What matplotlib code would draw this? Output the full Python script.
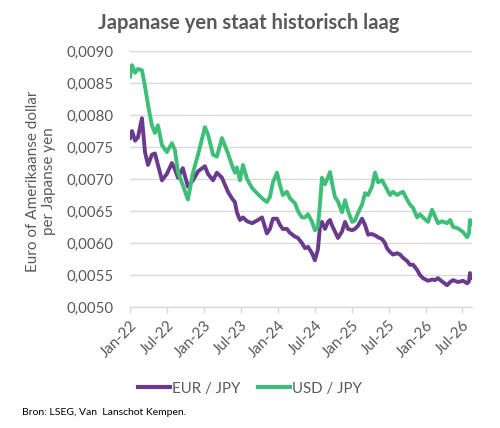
import matplotlib
matplotlib.use("Agg")
import matplotlib.pyplot as plt
import matplotlib.dates as mdates
import pandas as pd

dates = ["2022-01-01","2022-01-11","2022-01-26","2022-02-09","2022-03-01","2022-03-16","2022-03-31",
         "2022-04-19","2022-05-04","2022-05-19","2022-06-08","2022-07-02","2022-07-27","2022-08-11",
         "2022-08-26","2022-09-19","2022-10-14","2022-11-08","2022-12-03","2023-01-06","2023-01-21",
         "2023-02-15","2023-03-06","2023-03-31","2023-04-30","2023-05-19","2023-06-03","2023-06-13",
         "2023-06-28","2023-07-13","2023-08-02","2023-08-27","2023-09-20","2023-10-15","2023-11-08",
         "2023-11-23","2023-12-08","2023-12-28","2024-01-12","2024-01-26","2024-02-15","2024-03-01",
         "2024-03-26","2024-04-09","2024-04-29","2024-05-14","2024-05-29","2024-06-18","2024-07-02",
         "2024-07-17","2024-07-27","2024-08-06","2024-08-21","2024-09-05","2024-09-15","2024-09-24",
         "2024-10-09","2024-10-24","2024-11-13","2024-11-28","2024-12-13","2025-01-02","2025-01-16",
         "2025-01-31","2025-02-20","2025-03-07","2025-03-22","2025-04-10","2025-04-25","2025-05-10",
         "2025-05-30","2025-06-13","2025-06-23","2025-07-08","2025-07-23","2025-08-12","2025-08-27",
         "2025-09-10","2025-09-30","2025-10-15","2025-10-30","2025-11-19","2025-12-03","2025-12-18",
         "2026-01-12","2026-02-01","2026-02-15","2026-03-02","2026-03-22","2026-04-16","2026-05-01",
         "2026-05-16","2026-06-09","2026-07-04","2026-07-24","2026-08-02","2026-08-07","2026-08-12"]

eur_jpy = [0.00764,0.00775,0.00760,0.00765,0.00795,0.00742,0.00722,
           0.00738,0.00740,0.00722,0.00698,0.00708,0.00725,0.00715,
           0.00702,0.00717,0.00688,0.00698,0.00712,0.00720,0.00708,
           0.00698,0.00710,0.00702,0.00680,0.00670,0.00664,0.00648,
           0.00636,0.00640,0.00634,0.00631,0.00635,0.00640,0.00615,
           0.00622,0.00638,0.00638,0.00628,0.00622,0.00622,0.00616,
           0.00610,0.00608,0.00600,0.00592,0.00594,0.00584,0.00573,
           0.00590,0.00625,0.00633,0.00622,0.00633,0.00636,0.00628,
           0.00618,0.00608,0.00618,0.00633,0.00622,0.00620,0.00622,
           0.00627,0.00638,0.00628,0.00613,0.00614,0.00612,0.00609,
           0.00606,0.00600,0.00592,0.00586,0.00582,0.00584,0.00582,
           0.00577,0.00572,0.00566,0.00566,0.00558,0.00550,0.00545,
           0.00541,0.00543,0.00542,0.00545,0.00540,0.00534,0.00539,
           0.00542,0.00539,0.00541,0.00537,0.00540,0.00553,0.00545]

usd_jpy = [0.00860,0.00878,0.00866,0.00872,0.00870,0.00845,0.00816,
           0.00784,0.00772,0.00784,0.00753,0.00742,0.00756,0.00745,
           0.00711,0.00690,0.00668,0.00710,0.00738,0.00781,0.00770,
           0.00738,0.00735,0.00764,0.00740,0.00722,0.00710,0.00718,
           0.00698,0.00722,0.00700,0.00686,0.00678,0.00670,0.00664,
           0.00672,0.00695,0.00710,0.00690,0.00675,0.00680,0.00670,
           0.00662,0.00650,0.00640,0.00640,0.00645,0.00633,0.00620,
           0.00626,0.00660,0.00702,0.00692,0.00703,0.00711,0.00695,
           0.00672,0.00665,0.00648,0.00667,0.00650,0.00633,0.00635,
           0.00647,0.00660,0.00678,0.00675,0.00688,0.00710,0.00695,
           0.00698,0.00690,0.00684,0.00675,0.00680,0.00675,0.00678,
           0.00680,0.00668,0.00660,0.00655,0.00640,0.00645,0.00640,
           0.00633,0.00652,0.00642,0.00631,0.00634,0.00631,0.00636,
           0.00625,0.00623,0.00617,0.00609,0.00615,0.00636,0.00630]

tick_dates = ["2022-01-01","2022-07-01","2023-01-01","2023-07-01","2024-01-01",
              "2024-07-01","2025-01-01","2025-07-01","2026-01-01","2026-07-01"]
tick_labels = ["Jan-22","Jul-22","Jan-23","Jul-23","Jan-24",
               "Jul-24","Jan-25","Jul-25","Jan-26","Jul-26"]
y_ticks = [0.0050,0.0055,0.0060,0.0065,0.0070,0.0075,0.0080,0.0085,0.0090]
y_labels = ["0,0050","0,0055","0,0060","0,0065","0,0070","0,0075","0,0080","0,0085","0,0090"]

plt.rcParams['font.family'] = ['Lato', 'DejaVu Sans']
TXT = "#595959"
PURPLE = "#6a3a8c"
GREEN = "#3dbf77"
GRID = "#d9d9d9"

d = pd.to_datetime(dates)
fig = plt.figure(figsize=(5, 4.28), dpi=100)
ax = fig.add_axes([0.26, 0.2827, 0.684, 0.598])

ax.plot(d, eur_jpy, color=PURPLE, lw=2.8, label="EUR / JPY", solid_joinstyle="round")
ax.plot(d, usd_jpy, color=GREEN, lw=2.8, label="USD / JPY", solid_joinstyle="round")

ax.set_ylim(0.0050, 0.0090)
ax.set_xlim(pd.Timestamp("2022-01-01"), pd.Timestamp("2026-08-17"))
ax.set_yticks(y_ticks)
ax.set_yticklabels(y_labels)
ax.set_xticks(pd.to_datetime(tick_dates))
ax.set_xticklabels(tick_labels, rotation=45, ha="right", rotation_mode="anchor")

ax.grid(axis="y", color=GRID, lw=1)
ax.set_axisbelow(True)
for s in ["top", "right", "left"]:
    ax.spines[s].set_visible(False)
ax.spines["bottom"].set_color(GRID)
ax.spines["bottom"].set_linewidth(1)
ax.tick_params(axis="y", length=0, pad=12, labelsize=10.8, labelcolor=TXT)
ax.tick_params(axis="x", length=4, width=1, color=GRID, pad=4, labelsize=10.8, labelcolor=TXT)

fig.text(0.498, 0.946, "Japanase yen staat historisch laag", ha="center", va="center",
         fontsize=14.5, fontweight="bold", color=TXT)
fig.text(0.082, 0.577, "Euro of Amerikaanse dollar\nper Japanse yen", ha="center", va="center",
         rotation=90, fontsize=11, color=TXT, linespacing=1.2)

leg = fig.legend(loc="center", bbox_to_anchor=(0.5, 0.092), ncol=2, frameon=False,
                 fontsize=10.8, handlelength=2.1, handletextpad=0.15, columnspacing=1.2)
for t in leg.get_texts():
    t.set_color(TXT)
for l in leg.get_lines():
    l.set_linewidth(3)

fig.text(0.044, 0.037, "Bron: LSEG, Van  Lanschot Kempen.", ha="left", va="center",
         fontsize=7.5, color="black")

fig.savefig("out.png", dpi=100)
